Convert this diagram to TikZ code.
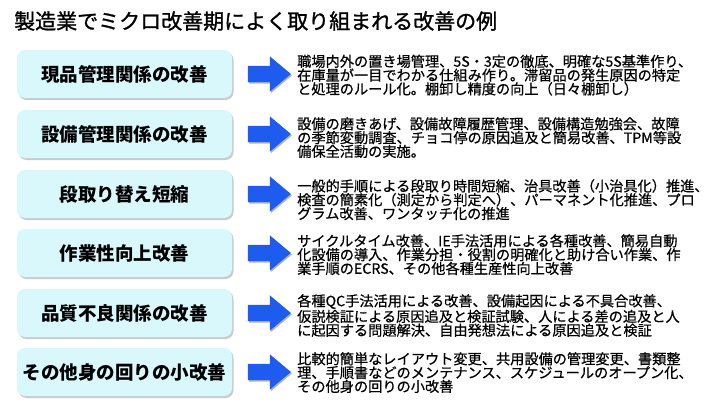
\documentclass[tikz,border=0pt]{standalone}
\usepackage{fontspec}
\newfontfamily\jp{Noto Sans CJK JP}
\newfontfamily\jpheavy{Noto Sans CJK JP}[FakeBold=0.6]
\newfontfamily\jptitle{Noto Sans CJK JP}[FakeBold=1.2]
\usetikzlibrary{shadows,shapes.arrows}
\definecolor{boxfill}{RGB}{216,248,252}
\definecolor{arrowblue}{RGB}{30,92,240}
\begin{document}
\begin{tikzpicture}[x=1pt,y=-1pt,
  catbox/.style={fill=boxfill, rounded corners=8pt, minimum width=215pt, minimum height=48pt,
    inner sep=0pt, font=\jp\bfseries\fontsize{18.5}{22}\selectfont,
    drop shadow={shadow xshift=1.5pt, shadow yshift=-2pt, fill=black!45, opacity=0.45}},
  bluearrow/.style={single arrow, fill=arrowblue, minimum height=43pt, minimum width=35pt,
    inner sep=8pt, single arrow head extend=9.5pt, single arrow tip angle=80,
    drop shadow={shadow xshift=1pt, shadow yshift=-1.5pt, fill=black!60, opacity=0.5}},
  desc/.style={anchor=north west, inner sep=0pt, align=left,
    font=\jpheavy\fontsize{14.2}{13.8}\selectfont}]
\useasboundingbox (0,0) rectangle (717,409);
\fill[white] (0,0) rectangle (717,409);
\node[anchor=west, inner sep=0pt, font=\jptitle\fontsize{21}{24}\selectfont] (title) at (14,21)
  {製造業でミクロ改善期によく取り組まれる改善の例};

\node[catbox] (b1) at (124.5,74) {現品管理関係の改善};
\node[catbox] (b2) at (124.5,134) {設備管理関係の改善};
\node[catbox] (b3) at (124.5,194) {段取り替え短縮};
\node[catbox] (b4) at (124.5,253) {作業性向上改善};
\node[catbox] (b5) at (124.5,313) {品質不良関係の改善};
\node[catbox] (b6) at (124.5,372) {その他身の回りの小改善};

\node[bluearrow] (a1) at (264.5,74) {};
\node[bluearrow] (a2) at (264.5,134) {};
\node[bluearrow] (a3) at (264.5,194) {};
\node[bluearrow] (a4) at (264.5,253) {};
\node[bluearrow] (a5) at (264.5,313) {};
\node[bluearrow] (a6) at (264.5,372) {};

\node[desc] (t1) at (297,54.5) {職場内外の置き場管理、5S・3定の徹底、明確な5S基準作り、\\在庫量が一目でわかる仕組み作り。滞留品の発生原因の特定\\と処理のルール化。棚卸し精度の向上（日々棚卸し）};
\node[desc] (t2) at (297,117) {設備の磨きあげ、設備故障履歴管理、設備構造勉強会、故障\\の季節変動調査、チョコ停の原因追及と簡易改善、TPM等設\\備保全活動の実施。};
\node[desc] (t3) at (297,179) {一般的手順による段取り時間短縮、治具改善（小治具化）推進、\\検査の簡素化（測定から判定へ）、パーマネント化推進、プロ\\グラム改善、ワンタッチ化の推進};
\node[desc] (t4) at (297,234) {サイクルタイム改善、IE手法活用による各種改善、簡易自動\\化設備の導入、作業分担・役割の明確化と助け合い作業、作\\業手順のECRS、その他各種生産性向上改善};
\node[desc] (t5) at (297,294) {各種QC手法活用による改善、設備起因による不具合改善、\\仮説検証による原因追及と検証試験、人による差の追及と人\\に起因する問題解決、自由発想法による原因追及と検証};
\node[desc] (t6) at (297,352) {比較的簡単なレイアウト変更、共用設備の管理変更、書類整\\理、手順書などのメンテナンス、スケジュールのオープン化、\\その他身の回りの小改善};
\end{tikzpicture}
\end{document}
